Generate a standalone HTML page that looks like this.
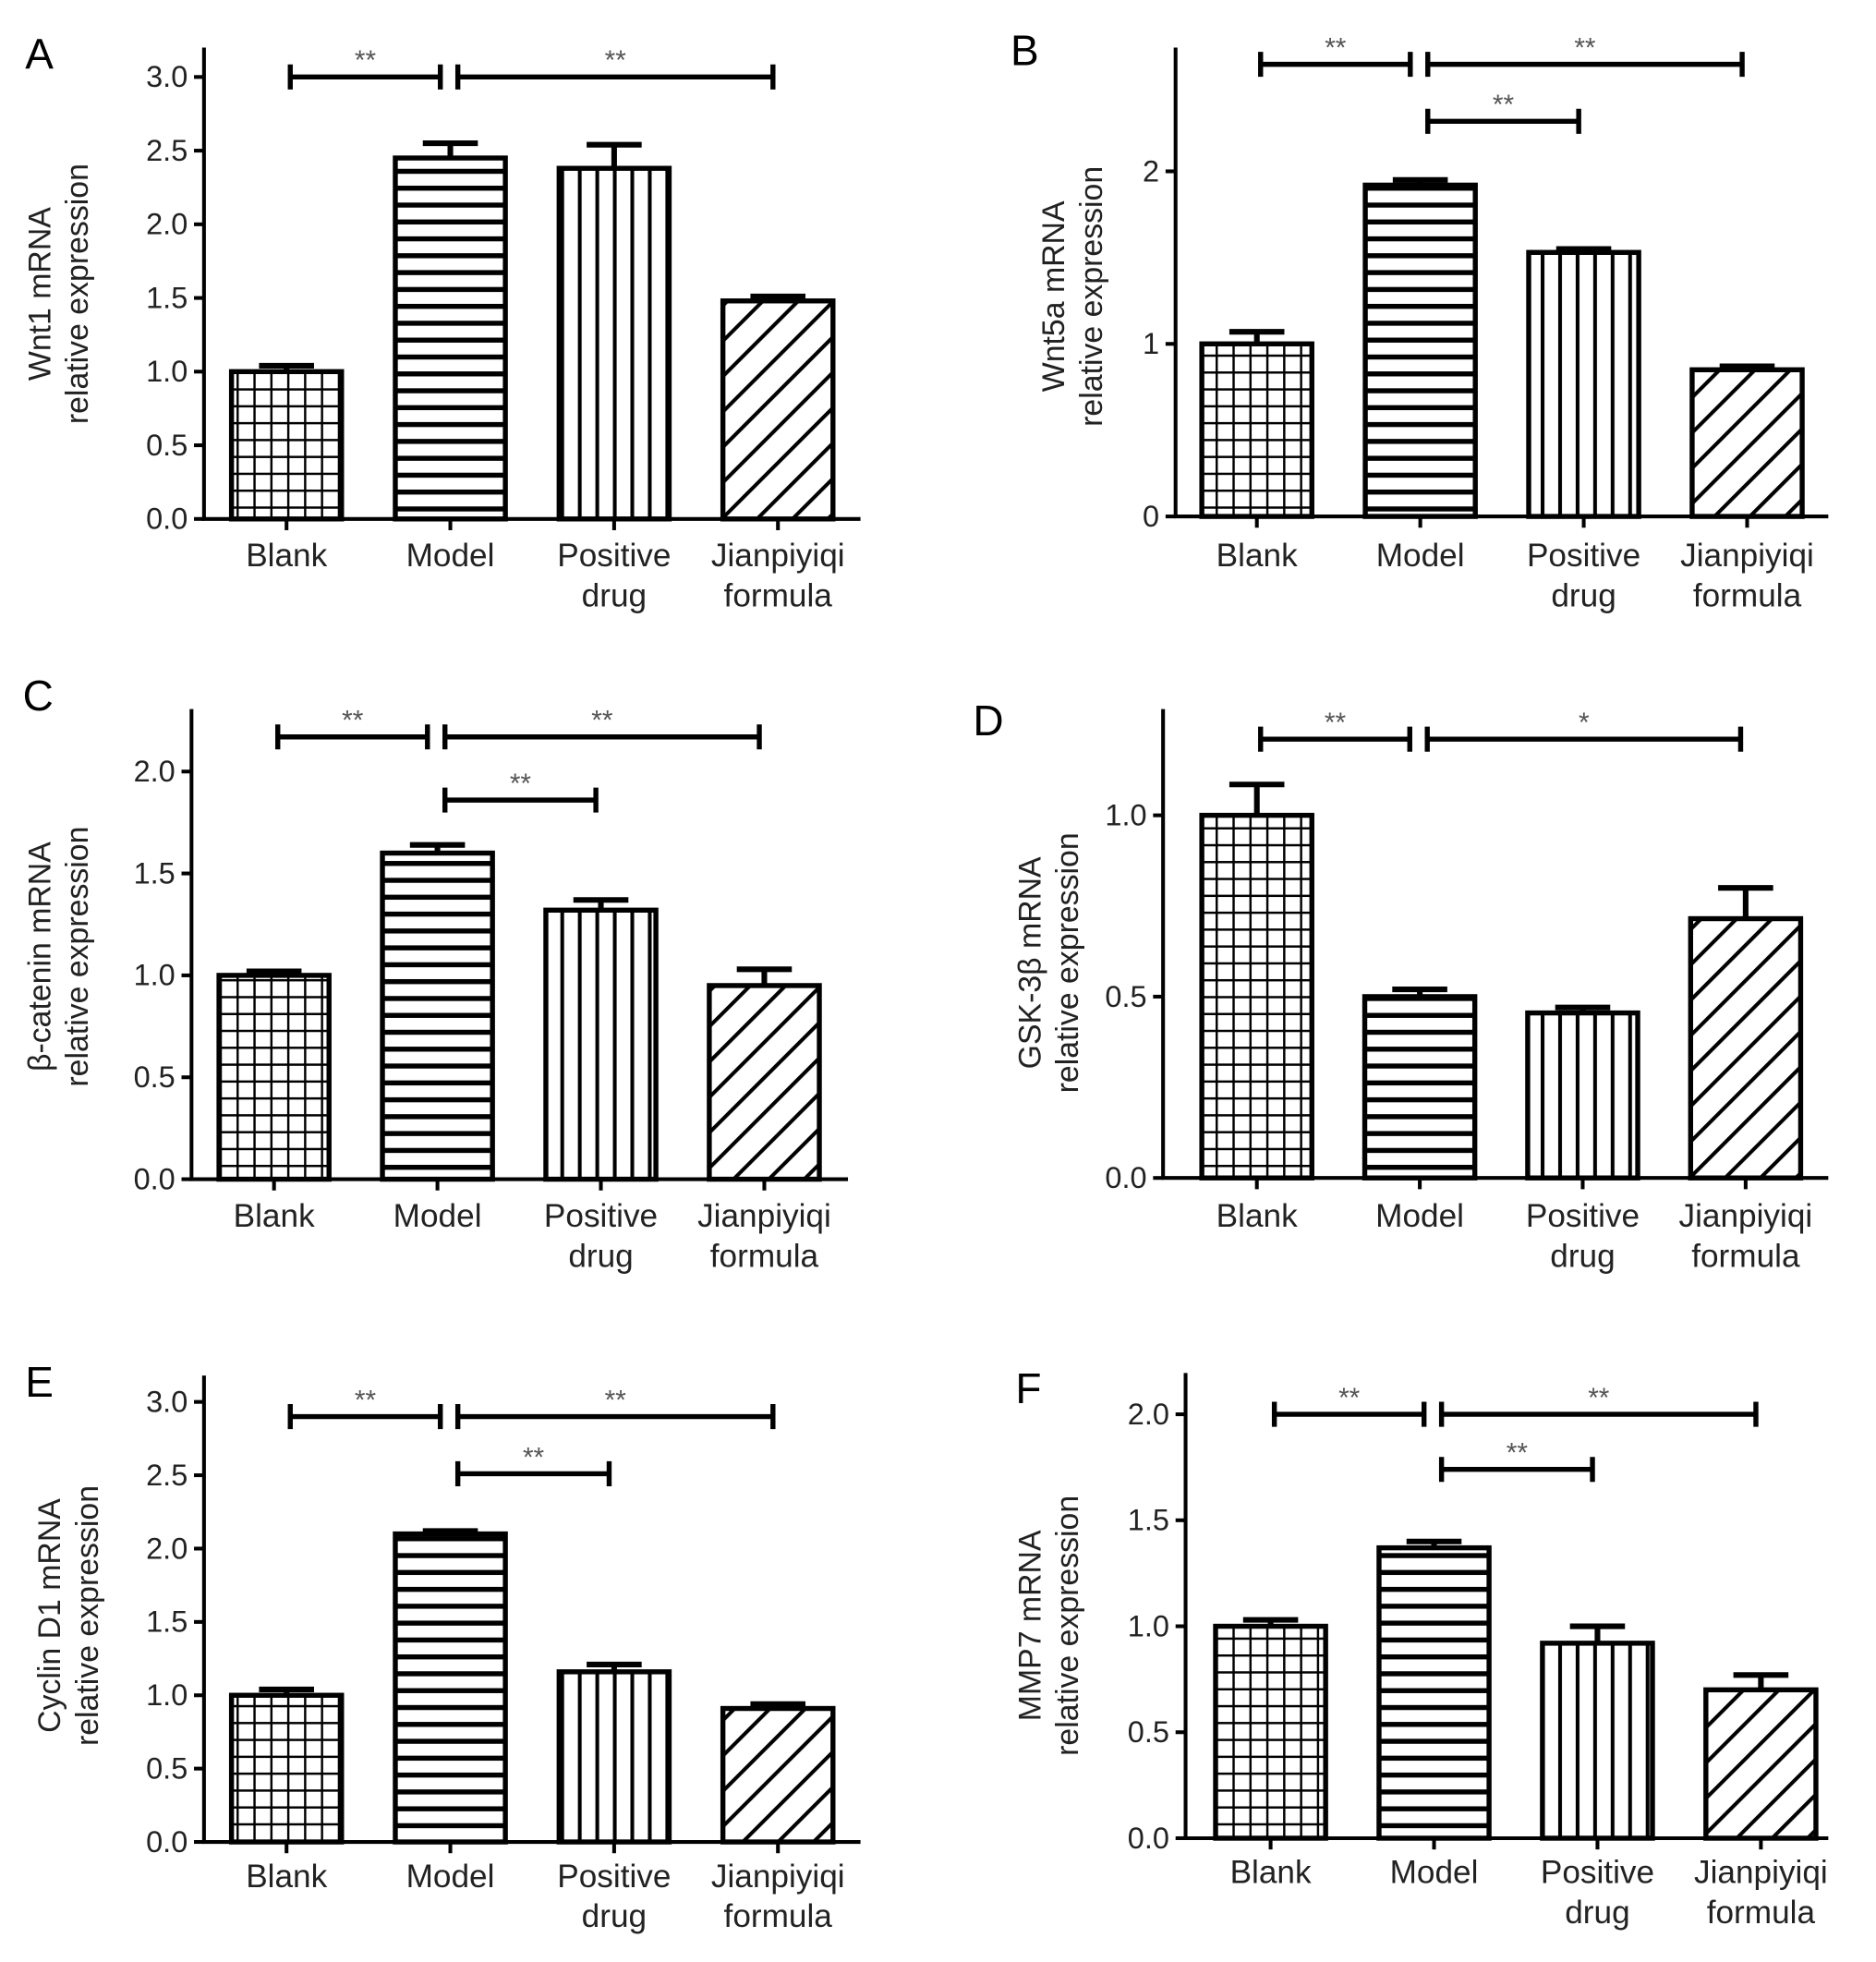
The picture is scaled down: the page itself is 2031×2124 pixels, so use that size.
<!DOCTYPE html>
<html><head><meta charset="utf-8"><style>
html,body{margin:0;padding:0;background:#fff;}
svg{display:block;}
text{font-family:"Liberation Sans",Arial,sans-serif;}
</style></head><body>
<svg id="fig" width="2031" height="2124" viewBox="0 0 1500 1569" xmlns="http://www.w3.org/2000/svg">
<defs>
<pattern id="pGrid" patternUnits="userSpaceOnUse" width="13.5" height="13.5"><path d="M0 0H13.5M0 0V13.5" stroke="#000" stroke-width="3.6" fill="none"/></pattern>
<pattern id="pHor" patternUnits="userSpaceOnUse" width="20" height="13.5"><rect x="0" y="0" width="20" height="4" fill="#000"/></pattern>
<pattern id="pVer" patternUnits="userSpaceOnUse" width="14" height="20"><rect x="0" y="0" width="3" height="20" fill="#000"/></pattern>
<pattern id="pDiag" patternUnits="userSpaceOnUse" width="20" height="20" patternTransform="rotate(45)"><rect x="0" y="0" width="3" height="20" fill="#000"/></pattern>
</defs>
</svg>
<script>
const categories = [["Blank"],["Model"],["Positive","drug"],["Jianpiyiqi","formula"]];
const valuesA = [1.0, 2.45, 2.38, 1.48];
const errorsA = [0.04, 0.10, 0.16, 0.03];
const ticksA = ["0.0","0.5","1.0","1.5","2.0","2.5","3.0"];
const valuesB = [1.0, 1.92, 1.53, 0.85];
const errorsB = [0.07, 0.03, 0.02, 0.02];
const ticksB = ["0","1","2"];
const valuesC = [1.0, 1.60, 1.32, 0.95];
const errorsC = [0.02, 0.04, 0.05, 0.08];
const ticksC = ["0.0","0.5","1.0","1.5","2.0"];
const valuesD = [1.0, 0.50, 0.455, 0.715];
const errorsD = [0.085, 0.02, 0.015, 0.085];
const ticksD = ["0.0","0.5","1.0"];
const valuesE = [1.0, 2.10, 1.16, 0.91];
const errorsE = [0.04, 0.02, 0.05, 0.03];
const ticksE = ["0.0","0.5","1.0","1.5","2.0","2.5","3.0"];
const valuesF = [1.0, 1.37, 0.92, 0.70];
const errorsF = [0.03, 0.03, 0.08, 0.07];
const ticksF = ["0.0","0.5","1.0","1.5","2.0"];
const sigA = [[0,1,3.0,"**"],[1,3,3.0,"**"]];
const sigB = [[0,1,2.62,"**"],[1,3,2.62,"**"],[1,2,2.29,"**"]];
const sigC = [[0,1,2.17,"**"],[1,3,2.17,"**"],[1,2,1.86,"**"]];
const sigD = [[0,1,1.21,"**"],[1,3,1.21,"*"]];
const sigE = [[0,1,2.9,"**"],[1,3,2.9,"**"],[1,2,2.51,"**"]];
const sigF = [[0,1,2.0,"**"],[1,3,2.0,"**"],[1,2,1.74,"**"]];

const panels = [
 {id:"a",letter:"A",lx:20,ly:55,ax:163,top:38,bottom:415,xEnd:688,off:66,step:131,ymax:3.2,tickStep:0.5,vals:valuesA,errs:errorsA,ticks:ticksA,sig:sigA,yl:["Wnt1 mRNA","relative expression"],ylx:40,ylc:235,catY:445},
 {id:"b",letter:"B",lx:808,ly:52,ax:940,top:38,bottom:413,xEnd:1462,off:65,step:130.7,ymax:375/138,tickStep:1,vals:valuesB,errs:errorsB,ticks:ticksB,sig:sigB,yl:["Wnt5a mRNA","relative expression"],ylx:851,ylc:237,catY:445},
 {id:"c",letter:"C",lx:18,ly:568,ax:153,top:567,bottom:943,xEnd:678,off:66,step:130.7,ymax:376/163,tickStep:0.5,vals:valuesC,errs:errorsC,ticks:ticksC,sig:sigC,yl:["\u03b2-catenin mRNA","relative expression"],ylx:40,ylc:765,catY:973},
 {id:"d",letter:"D",lx:778,ly:588,ax:930,top:567,bottom:942,xEnd:1462,off:75,step:130.3,ymax:375/290,tickStep:0.5,vals:valuesD,errs:errorsD,ticks:ticksD,sig:sigD,yl:["GSK-3\u03b2 mRNA","relative expression"],ylx:832,ylc:770,catY:973},
 {id:"e",letter:"E",lx:20,ly:1117,ax:163,top:1100,bottom:1473,xEnd:688,off:66,step:131,ymax:373/117.3,tickStep:0.5,vals:valuesE,errs:errorsE,ticks:ticksE,sig:sigE,yl:["Cyclin D1 mRNA","relative expression"],ylx:48,ylc:1292,catY:1501},
 {id:"f",letter:"F",lx:812,ly:1122,ax:948,top:1098,bottom:1470,xEnd:1462,off:68,step:130.7,ymax:372/169.5,tickStep:0.5,vals:valuesF,errs:errorsF,ticks:ticksF,sig:sigF,yl:["MMP7 mRNA","relative expression"],ylx:832,ylc:1300,catY:1498}
];
const fills = ["url(#pGrid)","url(#pHor)","url(#pVer)","url(#pDiag)"];
const NS="http://www.w3.org/2000/svg";
const svg=document.getElementById('fig');
function mk(tag,attrs,parent){const e=document.createElementNS(NS,tag);for(const k in attrs)e.setAttribute(k,attrs[k]);(parent||svg).appendChild(e);return e;}

panels.forEach(p=>{
 const g=mk('g',{});
 
 
 const pxPerUnit=(p.bottom-p.top)/p.ymax;
 const y=v=>p.bottom-v*pxPerUnit;
 const x=i=>p.ax+p.off+i*p.step;
 const bw=88;
 const lt=mk('text',{x:p.lx,y:p.ly,'font-size':34},g);lt.textContent=p.letter;
 
 
 p.vals.forEach((v,i)=>{
  const top=y(v+p.errs[i]);
  const el=mk('path',{d:`M${x(i)} ${y(v)}V${top}M${x(i)-22} ${top}H${x(i)+22}`,stroke:'#000','stroke-width':4.5,fill:'none'},g);
  
  
  const r=mk('rect',{x:x(i)-bw/2,y:y(v),width:bw,height:p.bottom-y(v),fill:fills[i],stroke:'#000','stroke-width':4},g);
  
  
 });
 const ya=mk('path',{d:`M${p.ax} ${p.top}V${p.bottom}`,stroke:'#000','stroke-width':3},g);
 
 
 const xa=mk('path',{d:`M${p.ax-1.5} ${p.bottom}H${p.xEnd}`,stroke:'#000','stroke-width':3},g);
 
 
 p.ticks.forEach((t,k)=>{
  const ty=y(k*p.tickStep);
  mk('path',{d:`M${p.ax-8} ${ty}H${p.ax}`,stroke:'#000','stroke-width':3},g);
  const tt=mk('text',{x:p.ax-13,y:ty+8,'font-size':24,'text-anchor':'end',fill:'#222'},g);tt.textContent=t;
  
  
 });
 categories.forEach((c,i)=>{
  mk('path',{d:`M${x(i)} ${p.bottom}V${p.bottom+9}`,stroke:'#000','stroke-width':3},g);
  c.forEach((line,j)=>{
   const ct=mk('text',{x:x(i),y:p.catY+j*32+8,'font-size':26,'text-anchor':'middle',fill:'#222'},g);ct.textContent=line;
   
   
  });
 });
 const yt=mk('text',{transform:`translate(${p.ylx},${p.ylc}) rotate(-90)`,'font-size':25,'text-anchor':'middle',fill:'#222'},g);
 
 
 p.yl.forEach((l,j)=>{const ts=mk('tspan',{x:0,dy:j?30:0},yt);ts.textContent=l;});
 p.sig.forEach(s=>{
  const x1=x(s[0])+(s[0]===1?6:3), x2=x(s[1])-(s[1]===1?8:4), by=y(s[2]);
  const b=mk('path',{d:`M${x1} ${by-10}V${by+10}M${x1} ${by}H${x2}M${x2} ${by-10}V${by+10}`,stroke:'#000','stroke-width':4,fill:'none'},g);
  
  
  const st=mk('text',{x:(x1+x2)/2,y:by-6,'font-size':22,'text-anchor':'middle',fill:'#555'},g);st.textContent=s[3];
  
  
 });
});
</script>
</body></html>
